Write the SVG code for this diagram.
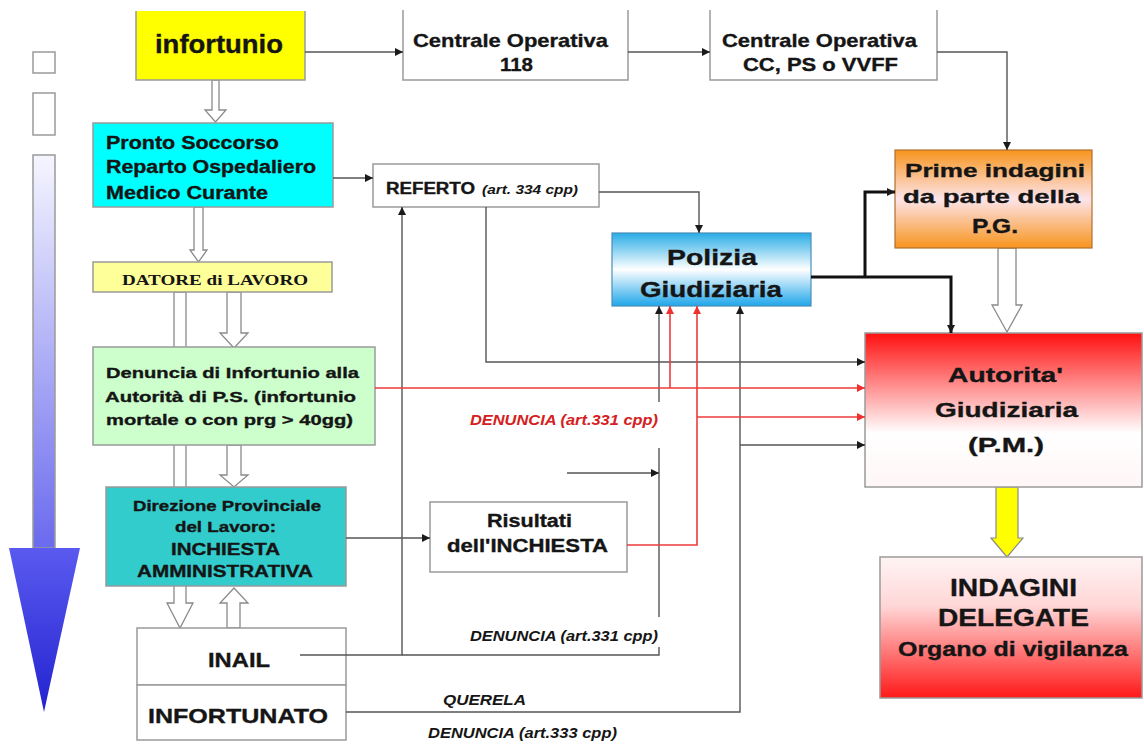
<svg xmlns="http://www.w3.org/2000/svg" width="1144" height="744" viewBox="0 0 1144 744">
<style>
.t{font-family:"Liberation Sans",Arial,sans-serif;font-weight:bold;fill:#151515;stroke:#151515;stroke-width:0.35}
.ti{font-family:"Liberation Sans",Arial,sans-serif;font-weight:bold;font-style:italic;fill:#151515}
.tr{font-family:"Liberation Serif","Times New Roman",serif;font-weight:bold;fill:#151515}
.bx{stroke:#9a9a9a;stroke-width:1.5}
.c{fill:none;stroke:#555;stroke-width:1.4}
.cr{fill:none;stroke:#ee3b3b;stroke-width:1.6}
.ck{fill:none;stroke:#111;stroke-width:3}
.ho{fill:#fff;stroke:#8a8a8a;stroke-width:1.3}
</style>
<defs>
<marker id="ah" viewBox="0 0 10 10" refX="10" refY="5" markerWidth="9" markerHeight="8" markerUnits="userSpaceOnUse" orient="auto"><path d="M0,0 L10,5 L0,10 z" fill="#1a1a1a"/></marker>
<marker id="ar" viewBox="0 0 10 10" refX="10" refY="5" markerWidth="9" markerHeight="8" markerUnits="userSpaceOnUse" orient="auto"><path d="M0,0 L10,5 L0,10 z" fill="#ee3030"/></marker>
<linearGradient id="gShaft" x1="0" y1="0" x2="0" y2="1"><stop offset="0" stop-color="#f6f6ff"/><stop offset="1" stop-color="#6a6aee"/></linearGradient>
<linearGradient id="gHead" x1="0" y1="0" x2="0" y2="1"><stop offset="0" stop-color="#5a5af0"/><stop offset="1" stop-color="#2323d0"/></linearGradient>
<linearGradient id="gPol" x1="0" y1="0" x2="0" y2="1"><stop offset="0" stop-color="#28ace6"/><stop offset="0.5" stop-color="#ffffff"/><stop offset="1" stop-color="#1fa6ea"/></linearGradient>
<linearGradient id="gPrime" x1="0" y1="0" x2="0" y2="1"><stop offset="0" stop-color="#f7941d"/><stop offset="0.5" stop-color="#fde4ea"/><stop offset="1" stop-color="#f7941d"/></linearGradient>
<linearGradient id="gAut" x1="0" y1="0" x2="0" y2="1"><stop offset="0" stop-color="#ff1010"/><stop offset="0.65" stop-color="#ffffff"/><stop offset="1" stop-color="#fff6f6"/></linearGradient>
<linearGradient id="gInd" x1="0" y1="0" x2="0" y2="1"><stop offset="0" stop-color="#fff4f4"/><stop offset="0.35" stop-color="#ffd6d6"/><stop offset="1" stop-color="#ff1818"/></linearGradient>
</defs>
<rect width="1144" height="744" fill="#fff"/>

<g id="timeline">
<rect x="33" y="52" width="22" height="21" fill="#fff" class="bx"/>
<rect x="33" y="93" width="22" height="42" fill="#fff" class="bx"/>
<rect x="33" y="155" width="22" height="393" fill="url(#gShaft)" class="bx"/>
<polygon points="9,548 80,548 44,712" fill="url(#gHead)"/>
</g>

<g id="hollow-arrows">
<polygon class="ho" points="212,80 212,110 205,110 215.5,122 226,110 219,110 219,80"/>
<polygon class="ho" points="194,207 194,250 190,250 198.5,262 207,250 203,250 203,207"/>
<polygon class="ho" points="174,292 174,603 167,603 180,628 193,603 186,603 186,292"/>
<polygon class="ho" points="227,292 227,333 220,333 234,348 248,333 241,333 241,292"/>
<polygon class="ho" points="227,445 227,475 220,475 234,487 248,475 241,475 241,445"/>
<polygon class="ho" points="227,628 227,603 220,603 234,588 248,603 240,603 240,628"/>
<polygon class="ho" points="998,248 998,305 992,305 1007,332 1022,305 1016,305 1016,248"/>
<polygon points="996,487 996,538 991,538 1007,557 1023,538 1018,538 1018,487" fill="#ffff00" stroke="#8a8a8a" stroke-width="1.2"/>
</g>

<g id="infortunio">
<rect x="136" y="11" width="169" height="69" fill="#ffff00"/>
<path d="M136,11 V80 H305 V11" fill="none" class="bx"/>
<text class="t" x="155" y="53" font-size="25" textLength="128" lengthAdjust="spacingAndGlyphs">infortunio</text>
</g>

<g id="centrale118">
<path d="M403,10 V80 H628 V10" fill="none" class="bx"/>
<text class="t" x="413" y="47" font-size="19" textLength="195" lengthAdjust="spacingAndGlyphs">Centrale Operativa</text>
<text class="t" x="500" y="71" font-size="19" textLength="33" lengthAdjust="spacingAndGlyphs">118</text>
</g>

<g id="centraleCC">
<path d="M710,10 V80 H937 V10" fill="none" class="bx"/>
<text class="t" x="722" y="47" font-size="19" textLength="195" lengthAdjust="spacingAndGlyphs">Centrale Operativa</text>
<text class="t" x="743" y="71" font-size="19" textLength="155" lengthAdjust="spacingAndGlyphs">CC, PS o VVFF</text>
</g>

<g id="pronto">
<rect x="93" y="123" width="240" height="84" fill="#00ffff" class="bx"/>
<text class="t" x="106" y="149" font-size="18" textLength="173" lengthAdjust="spacingAndGlyphs">Pronto Soccorso</text>
<text class="t" x="106" y="173" font-size="18" textLength="210" lengthAdjust="spacingAndGlyphs">Reparto Ospedaliero</text>
<text class="t" x="106" y="199" font-size="18" textLength="162" lengthAdjust="spacingAndGlyphs">Medico Curante</text>
</g>

<g id="referto">
<rect x="373" y="164" width="226" height="43" fill="#fff" class="bx"/>
<text class="t" x="386" y="194" font-size="16" textLength="89" lengthAdjust="spacingAndGlyphs">REFERTO</text>
<text class="ti" x="482" y="194" font-size="12" textLength="96" lengthAdjust="spacingAndGlyphs">(art. 334 cpp)</text>
</g>

<g id="polizia">
<rect x="612" y="233" width="199" height="73" fill="url(#gPol)" stroke="#4a8fb8" stroke-width="1.2"/>
<text class="t" x="667" y="265" font-size="22" textLength="90" lengthAdjust="spacingAndGlyphs">Polizia</text>
<text class="t" x="640" y="297" font-size="22" textLength="142" lengthAdjust="spacingAndGlyphs">Giudiziaria</text>
</g>

<g id="prime">
<rect x="895" y="150" width="197" height="98" fill="url(#gPrime)" stroke="#b07030" stroke-width="1.2"/>
<text class="t" x="905" y="177" font-size="19" textLength="180" lengthAdjust="spacingAndGlyphs">Prime indagini</text>
<text class="t" x="903" y="203" font-size="19" textLength="177" lengthAdjust="spacingAndGlyphs">da parte della</text>
<text class="t" x="972" y="233" font-size="20" textLength="46" lengthAdjust="spacingAndGlyphs">P.G.</text>
</g>

<g id="datore">
<rect x="93" y="262" width="239" height="30" fill="#ffff99" class="bx"/>
<text class="tr" x="122" y="285" font-size="15" textLength="186" lengthAdjust="spacingAndGlyphs">DATORE di LAVORO</text>
</g>

<g id="denuncia">
<rect x="93" y="347" width="282" height="98" fill="#ccffcc" class="bx"/>
<text class="t" x="106" y="378" font-size="15.5" textLength="253" lengthAdjust="spacingAndGlyphs">Denuncia di Infortunio alla</text>
<text class="t" x="105" y="402" font-size="15.5" textLength="251" lengthAdjust="spacingAndGlyphs">Autorità di P.S. (infortunio</text>
<text class="t" x="106" y="425" font-size="15.5" textLength="247" lengthAdjust="spacingAndGlyphs">mortale o con prg &gt; 40gg)</text>
</g>

<g id="direzione">
<rect x="106" y="487" width="240" height="99" fill="#33cccc" class="bx"/>
<text class="t" x="133" y="511" font-size="14" textLength="188" lengthAdjust="spacingAndGlyphs">Direzione Provinciale</text>
<text class="t" x="175" y="532" font-size="14" textLength="101" lengthAdjust="spacingAndGlyphs">del Lavoro:</text>
<text class="t" x="171" y="555" font-size="16" textLength="109" lengthAdjust="spacingAndGlyphs">INCHIESTA</text>
<text class="t" x="137" y="577" font-size="16" textLength="176" lengthAdjust="spacingAndGlyphs">AMMINISTRATIVA</text>
</g>

<g id="risultati">
<rect x="430" y="502" width="197" height="70" fill="#fff" class="bx"/>
<text class="t" x="487" y="527" font-size="18" textLength="85" lengthAdjust="spacingAndGlyphs">Risultati</text>
<text class="t" x="447" y="552" font-size="18" textLength="161" lengthAdjust="spacingAndGlyphs">dell'INCHIESTA</text>
</g>

<g id="inail">
<rect x="137" y="628" width="209" height="57" fill="#fff" class="bx"/>
<text class="t" x="208" y="667" font-size="21" textLength="62" lengthAdjust="spacingAndGlyphs">INAIL</text>
</g>

<g id="infortunato">
<rect x="137" y="685" width="209" height="55" fill="#fff" class="bx"/>
<text class="t" x="148" y="723" font-size="21" textLength="180" lengthAdjust="spacingAndGlyphs">INFORTUNATO</text>
</g>

<g id="autorita">
<rect x="865" y="333" width="277" height="154" fill="url(#gAut)" class="bx"/>
<text class="t" x="948" y="382" font-size="21" textLength="115" lengthAdjust="spacingAndGlyphs">Autorita'</text>
<text class="t" x="935" y="417" font-size="21" textLength="143" lengthAdjust="spacingAndGlyphs">Giudiziaria</text>
<text class="t" x="968" y="452" font-size="21" textLength="76" lengthAdjust="spacingAndGlyphs">(P.M.)</text>
</g>

<g id="indagini">
<rect x="880" y="557" width="262" height="141" fill="url(#gInd)" class="bx"/>
<text class="t" x="950" y="596" font-size="24" textLength="127" lengthAdjust="spacingAndGlyphs">INDAGINI</text>
<text class="t" x="938" y="626" font-size="24" textLength="151" lengthAdjust="spacingAndGlyphs">DELEGATE</text>
<text class="t" x="898" y="656" font-size="20" textLength="230" lengthAdjust="spacingAndGlyphs">Organo di vigilanza</text>
</g>

<g id="connectors">
<path class="c" d="M305,52 H403" marker-end="url(#ah)"/>
<path class="c" d="M628,52 H710" marker-end="url(#ah)"/>
<path class="c" d="M937,52 H1007 V150" marker-end="url(#ah)"/>
<path class="c" d="M333,178 H373" marker-end="url(#ah)"/>
<path class="c" d="M599,192 H699 V233" marker-end="url(#ah)"/>
<path class="c" d="M486,207 V362 H865" marker-end="url(#ah)"/>
<path class="c" d="M300,655 H402 V207" marker-end="url(#ah)"/>
<path class="c" d="M402,655 H659 V647"/>
<path class="c" d="M659,617 V448"/>
<path class="c" d="M659,402 V306" marker-end="url(#ah)"/>
<path class="c" d="M567,473 H659" marker-end="url(#ah)"/>
<path class="c" d="M346,538 H430" marker-end="url(#ah)"/>
<path class="c" d="M346,712 H740 V306" marker-end="url(#ah)"/>
<path class="c" d="M740,445 H865" marker-end="url(#ah)"/>
<path class="cr" d="M375,388 H865" marker-end="url(#ar)"/>
<path class="cr" d="M670,388 V306" marker-end="url(#ar)"/>
<path class="cr" d="M627,545 H697 V306" marker-end="url(#ar)"/>
<path class="cr" d="M697,417 H865" marker-end="url(#ar)"/>
<path class="ck" d="M811,277 H951 V333" marker-end="url(#ah)"/>
<path class="ck" d="M865,277 V192 H895" marker-end="url(#ah)"/>
</g>

<g id="labels">
<text class="ti" x="470" y="425" font-size="14" style="fill:#d42020" textLength="188" lengthAdjust="spacingAndGlyphs">DENUNCIA (art.331 cpp)</text>
<text class="ti" x="470" y="641" font-size="14" textLength="188" lengthAdjust="spacingAndGlyphs">DENUNCIA (art.331 cpp)</text>
<text class="ti" x="443" y="705" font-size="14" textLength="83" lengthAdjust="spacingAndGlyphs">QUERELA</text>
<text class="ti" x="428" y="738" font-size="14" textLength="189" lengthAdjust="spacingAndGlyphs">DENUNCIA (art.333 cpp)</text>
</g>
</svg>
